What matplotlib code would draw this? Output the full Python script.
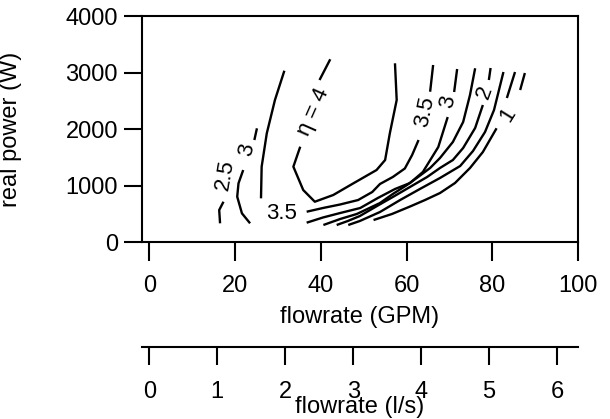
import matplotlib.pyplot as plt

plt.rcParams['font.family'] = ['Liberation Sans', 'DejaVu Sans']
plt.rcParams['font.size'] = 17

# contour pieces: x = flowrate (GPM), y = real power (W)
eta4_x = [35.2, 33.6, 35.9, 38.6, 42.9, 47.6, 53.0, 55.0, 56.1, 57.7, 57.3]
eta4_y = [1687, 1333, 920, 713, 832, 1039, 1274, 1451, 1924, 2513, 3163]
eta4_top_x = [39.7, 42.2]
eta4_top_y = [2867, 3234]

c35_left_x = [31.5, 29.3, 27.4, 26.2, 26.05]
c35_left_y = [3032, 2513, 1924, 1333, 773]
c35_x = [36.7, 40.5, 44.5, 48.7, 52.0, 53.8, 56.8, 59.6, 61.3, 62.8]
c35_y = [536, 602, 664, 743, 885, 1027, 1151, 1301, 1540, 1805]
c35_top_x = [65.5, 66.2]
c35_top_y = [2660, 3133]

c3_left_x = [23.5, 21.6, 20.5, 20.8, 21.9]
c3_left_y = [331, 508, 802, 1039, 1274]
c3_left_top_x = [24.5, 25.1]
c3_left_top_y = [1805, 2012]
c3_x = [36.7, 40.5, 44.5, 49.2, 53.3, 57.3, 60.8, 63.8, 67.4, 69.6]
c3_y = [342, 434, 513, 602, 779, 938, 1044, 1239, 1681, 2212]
c3_top_x = [71.1, 71.8]
c3_top_y = [2655, 3062]

c25_left_x = [17.3, 16.3, 16.5]
c25_left_y = [713, 566, 331]
c25_x = [40.6, 44.5, 48.4, 53.8, 56.8, 60.1, 62.7, 65.5, 67.8, 70.8, 73.2, 74.8, 76.0]
c25_y = [301, 407, 496, 690, 850, 1009, 1151, 1310, 1487, 1770, 2124, 2602, 3075]

c2_x = [43.7, 46.3, 49.1, 53.1, 56.8, 60.8, 64.8, 67.8, 70.8, 73.2, 76.0, 77.8]
c2_y = [301, 372, 460, 637, 797, 974, 1151, 1310, 1451, 1664, 2018, 2425]
c2_top_x = [79.2, 79.6]
c2_top_y = [2867, 3080]

c15_x = [46.4, 49.1, 53.8, 58.5, 63.1, 67.8, 72.5, 75.5, 78.3, 80.4, 82.6]
c15_y = [301, 372, 531, 743, 938, 1133, 1345, 1611, 1947, 2336, 3009]

c1_x = [52.3, 56.6, 60.8, 64.3, 67.8, 71.3, 74.8, 77.8, 81.0]
c1_y = [389, 496, 628, 743, 867, 1044, 1310, 1593, 2013]
c1_top_x = [83.4, 85.3]
c1_top_y = [2549, 3009]

c05_top_x = [86.5, 87.6]
c05_top_y = [2690, 2991]

# contour labels: text, position (GPM, W), angle
label_text = ['2.5', '3', 'η = 4', '3.5', '3.5', '3', '2', '1']
label_x = [17.7, 22.7, 38.3, 30.9, 64.3, 69.7, 78.3, 83.7]
label_y = [1186, 1628, 2306, 513, 2306, 2483, 2655, 2248]
label_rot = [80, 78, 66, 0, 78, 78, 70, 58]

gpm_ticks = [0, 20, 40, 60, 80, 100]
ls_ticks = [0, 1, 2, 3, 4, 5, 6]
power_ticks = [0, 1000, 2000, 3000, 4000]

LS_PER_GPM = 0.0630902


def gpm_to_ls(g):
    return g * LS_PER_GPM


def ls_to_gpm(l):
    return l / LS_PER_GPM


fig = plt.figure(figsize=(6.1, 4.19), dpi=100)
ax = fig.add_axes([0.232, 0.4224, 0.7156, 0.5394])

pieces = [
    (eta4_x, eta4_y), (eta4_top_x, eta4_top_y),
    (c35_left_x, c35_left_y), (c35_x, c35_y), (c35_top_x, c35_top_y),
    (c3_left_x, c3_left_y), (c3_left_top_x, c3_left_top_y),
    (c3_x, c3_y), (c3_top_x, c3_top_y),
    (c25_left_x, c25_left_y), (c25_x, c25_y),
    (c2_x, c2_y), (c2_top_x, c2_top_y),
    (c15_x, c15_y),
    (c1_x, c1_y), (c1_top_x, c1_top_y),
    (c05_top_x, c05_top_y),
]
for px, py in pieces:
    ax.plot(px, py, color='black', lw=1.7, solid_capstyle='butt')

for t, x, y, r in zip(label_text, label_x, label_y, label_rot):
    ax.text(x, y, t, rotation=r, ha='center', va='center', fontsize=16,
            rotation_mode='anchor')

ax.set_xlim(-1.82, 100)
ax.set_ylim(0, 4000)
ax.set_xticks(gpm_ticks)
ax.set_yticks(power_ticks)
for s in ax.spines.values():
    s.set_linewidth(1.5)
ax.tick_params(axis='x', direction='out', length=14, width=1.5, pad=10)
ax.tick_params(axis='y', direction='out', length=13, width=1.5, pad=4)
ax.set_xlabel('flowrate (GPM)', labelpad=6)
ax.set_ylabel('real power (W)')
ax.yaxis.set_label_coords(-0.274, 0.5)

# second flowrate scale in l/s under the main axis
sec = ax.secondary_xaxis(-0.463, functions=(gpm_to_ls, ls_to_gpm))
sec.set_xticks(ls_ticks)
sec.spines['bottom'].set_linewidth(1.5)
sec.tick_params(direction='out', length=13, width=1.5, pad=12)
sec.set_xlabel('flowrate (l/s)', labelpad=-5)

plt.savefig('out.png', dpi=100)
